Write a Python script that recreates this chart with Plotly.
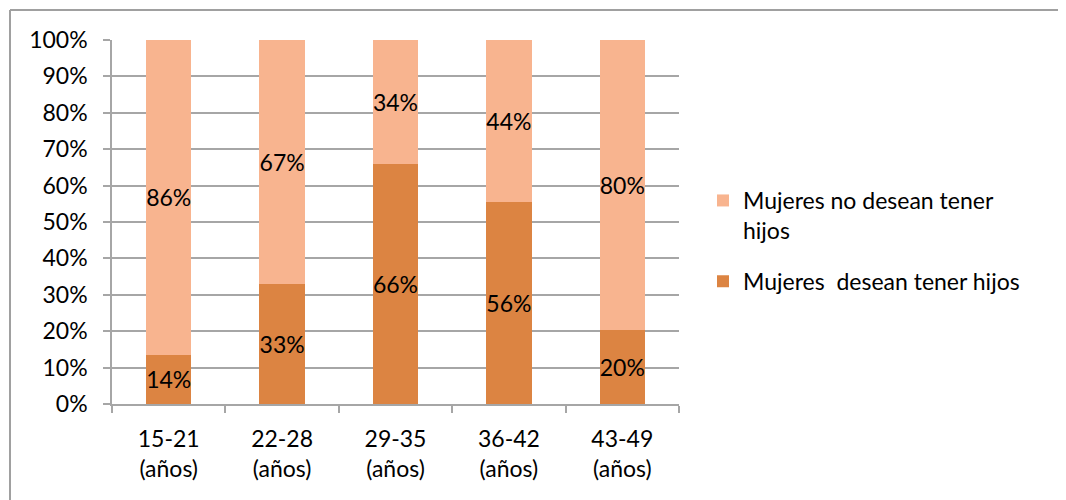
import plotly.graph_objects as go

categories = ["15-21<br>(años)", "22-28<br>(años)", "29-35<br>(años)", "36-42<br>(años)", "43-49<br>(años)"]
desean = [0.136, 0.33, 0.66, 0.556, 0.203]
no_desean = [0.864, 0.67, 0.34, 0.444, 0.797]
y_ticks = [0, 0.1, 0.2, 0.3, 0.4, 0.5, 0.6, 0.7, 0.8, 0.9, 1.0]

FONT = "Lato"
FS = 23
GRID = "#a6a6a6"

fig = go.Figure()
fig.add_trace(go.Bar(
    x=categories, y=desean, name="Mujeres  desean tener hijos",
    legendgroup="a", legendrank=2,
    marker=dict(color="#dc8442", line=dict(width=0)),
    texttemplate="%{y:.0%}", textposition="inside", insidetextanchor="middle",
    textangle=0,
    textfont=dict(color="black", size=FS, family=FONT),
))
fig.add_trace(go.Bar(
    x=categories, y=no_desean, name="Mujeres no desean tener<br>hijos",
    legendgroup="b", legendrank=1,
    marker=dict(color="#f8b48f", line=dict(width=0)),
    texttemplate="%{y:.0%}", textposition="inside", insidetextanchor="middle",
    textangle=0,
    textfont=dict(color="black", size=FS, family=FONT),
))

# page has an 8px body margin; figure coords = page coords - 8
OFF = 8
W, H = 1066 - OFF, 500 - OFF
L, T = 112 - OFF, 40 - OFF
R = W - (679 - OFF)
B = H - (404 - OFF)
pw, ph = W - L - R, H - T - B

fig.update_layout(
    width=W, height=H,
    barmode="stack", bargap=0.6,
    margin=dict(l=L, r=R, t=T, b=B),
    paper_bgcolor="white", plot_bgcolor="white",
    font=dict(family=FONT, size=FS, color="black"),
    uniformtext=dict(minsize=FS, mode="show"),
    showlegend=True,
    legend=dict(
        traceorder="grouped", tracegroupgap=18,
        x=(703 - OFF - L) / pw, y=1 - (179 - OFF - T) / ph,
        xanchor="left", yanchor="top", valign="top",
        font=dict(family=FONT, size=FS, color="black"),
        itemwidth=30, bgcolor="rgba(0,0,0,0)",
    ),
    xaxis=dict(
        showgrid=False, showline=True, linecolor=GRID, linewidth=1.5,
        ticks="outside", tickson="boundaries", ticklen=7, tickcolor=GRID, tickwidth=1.5,
        ticklabelstandoff=14,
        tickfont=dict(family=FONT, size=FS, color="black"),
        fixedrange=True,
    ),
    yaxis=dict(
        range=[0, 1], tickvals=y_ticks, tickformat=".0%",
        showgrid=True, gridcolor=GRID, gridwidth=1.5,
        showline=True, linecolor=GRID, linewidth=1.5,
        ticks="outside", ticklen=7, tickcolor=GRID, tickwidth=1.5,
        ticklabelstandoff=11,
        tickfont=dict(family=FONT, size=FS, color="black"),
        zeroline=False, fixedrange=True,
    ),
    shapes=[
        dict(type="line", xref="paper", yref="paper",
             x0=(10 - OFF - L) / pw, x1=(W + 5 - L) / pw,
             y0=1 + (T - (10 - OFF)) / ph, y1=1 + (T - (10 - OFF)) / ph,
             line=dict(color="#a0a0a0", width=2)),
        dict(type="line", xref="paper", yref="paper",
             x0=(10 - OFF - L) / pw, x1=(10 - OFF - L) / pw,
             y0=1 + (T - (10 - OFF)) / ph, y1=-(H + 5 - (T + ph)) / ph,
             line=dict(color="#a0a0a0", width=2)),
    ],
)

fig.write_html("out.html")
